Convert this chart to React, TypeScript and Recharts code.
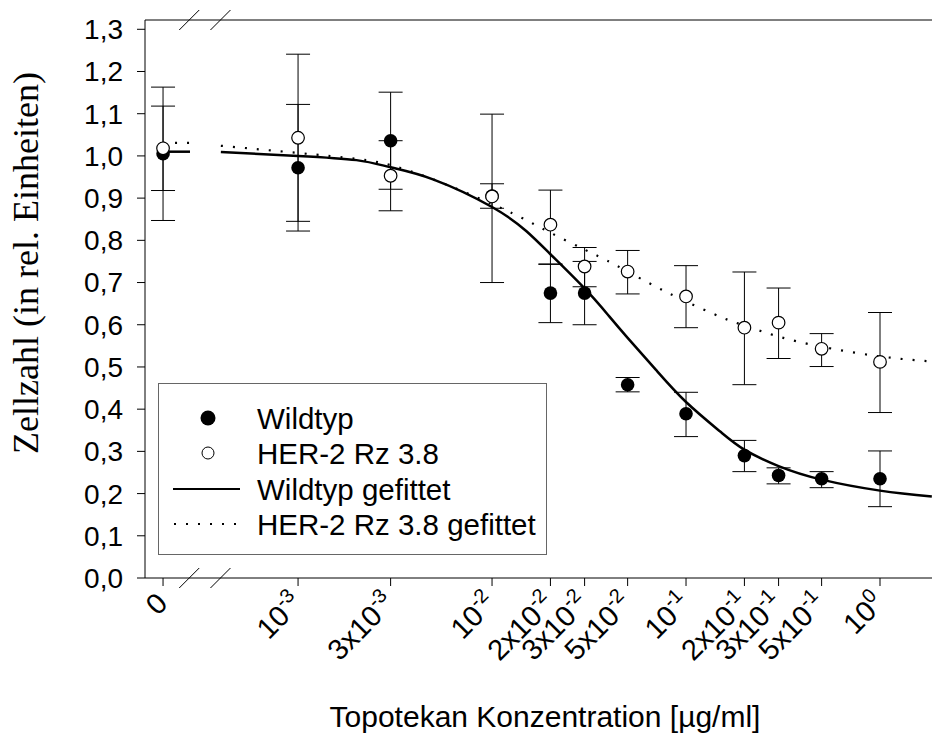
import {
  ComposedChart,
  Scatter,
  Line,
  XAxis,
  YAxis,
  ErrorBar,
  ReferenceLine,
  Legend,
} from "recharts";

// Konzentrationen [µg/ml]
const conc = [0, 0.001, 0.003, 0.01, 0.02, 0.03, 0.05, 0.1, 0.2, 0.3, 0.5, 1];

const wildtyp = [1.005, 0.972, 1.036, 0.905, 0.675, 0.675, 0.458, 0.389, 0.29, 0.243, 0.235, 0.235];
const wildtypLow = [0.847, 0.822, 0.921, 0.876, 0.605, 0.6, 0.441, 0.335, 0.252, 0.223, 0.214, 0.169];
const wildtypHigh = [1.163, 1.122, 1.151, 0.934, 0.744, 0.75, 0.475, 0.44, 0.326, 0.261, 0.252, 0.301];

const her2 = [1.018, 1.043, 0.953, 0.904, 0.837, 0.738, 0.726, 0.667, 0.593, 0.605, 0.543, 0.512];
const her2Low = [0.918, 0.845, 0.87, 0.7, 0.743, 0.69, 0.673, 0.593, 0.458, 0.52, 0.501, 0.392];
const her2High = [1.118, 1.241, 1.036, 1.099, 0.919, 0.783, 0.776, 0.74, 0.725, 0.687, 0.579, 0.629];

// gefittete Kurven
const fitConc = [0.0004, 0.001, 0.002, 0.003, 0.005, 0.01, 0.015, 0.02, 0.03, 0.04, 0.05, 0.07, 0.1, 0.15, 0.2, 0.3, 0.5, 1, 1.85];
const wildtypFit = [1.009, 1.0, 0.99, 0.973, 0.944, 0.879, 0.822, 0.767, 0.686, 0.621, 0.569, 0.493, 0.417, 0.347, 0.304, 0.265, 0.233, 0.207, 0.193];
const her2Fit = [1.024, 1.007, 0.993, 0.978, 0.944, 0.886, 0.848, 0.818, 0.778, 0.75, 0.726, 0.69, 0.655, 0.619, 0.598, 0.572, 0.548, 0.525, 0.513];
const wildtypFitZero = 1.01;
const her2FitZero = 1.031;

const tickLabels = ["0", "10^-3", "3x10^-3", "10^-2", "2x10^-2", "3x10^-2", "5x10^-2", "10^-1", "2x10^-1", "3x10^-1", "5x10^-1", "10^0"];
const yTicks = [0, 0.1, 0.2, 0.3, 0.4, 0.5, 0.6, 0.7, 0.8, 0.9, 1.0, 1.1, 1.2, 1.3];

// gebrochene log-Achse: 0 sitzt links vom Bruch
const ZERO_POS = -3.696;
const X_DOMAIN = [-3.789, 0.268];
const Y_MAX = 1.322;
const BREAKS = [-3.561, -3.4];
const ZERO_STUB_END = -3.557;

const toPos = (c: number) => (c === 0 ? ZERO_POS : Math.log10(c));
const tickPos = conc.map(toPos);

const wtData = conc.map((c, i) => ({
  u: toPos(c),
  v: wildtyp[i],
  err: [wildtyp[i] - wildtypLow[i], wildtypHigh[i] - wildtyp[i]],
}));
const herData = conc.map((c, i) => ({
  u: toPos(c),
  v: her2[i],
  err: [her2[i] - her2Low[i], her2High[i] - her2[i]],
}));
const wtFitData = fitConc.map((c, i) => ({ u: toPos(c), v: wildtypFit[i] }));
const herFitData = fitConc.map((c, i) => ({ u: toPos(c), v: her2Fit[i] }));
const wtStub = [
  { u: ZERO_POS, v: wildtypFitZero },
  { u: ZERO_STUB_END, v: wildtypFitZero },
];
const herStub = [
  { u: ZERO_POS, v: her2FitZero },
  { u: ZERO_STUB_END, v: her2FitZero },
];

const SANS = "'Liberation Sans', Arial, sans-serif";
const SERIF = "'Liberation Serif', 'Times New Roman', serif";

function ConcTick(props: any) {
  const { x, y, payload, index } = props;
  let i = tickPos.indexOf(payload.value);
  if (i < 0) i = index;
  const [base, exp] = (tickLabels[i] || "").split("^");
  return (
    <g transform={`translate(${x + 6},${y + 17}) rotate(-45)`}>
      <text textAnchor="end" fontSize={29} fontFamily={SANS} fill="#000">
        {base}
        {exp && (
          <tspan dy={-12} fontSize={20}>
            {exp}
          </tspan>
        )}
      </text>
    </g>
  );
}

function FilledDot(p: any) {
  return <circle cx={p.cx} cy={p.cy} r={6.8} fill="#000" />;
}

function OpenDot(p: any) {
  return <circle cx={p.cx} cy={p.cy} r={6.3} fill="#fff" stroke="#000" strokeWidth={1.2} />;
}

function BreakMark(p: any) {
  const x = p.x1;
  const top = Math.min(p.y1, p.y2);
  const bottom = Math.max(p.y1, p.y2);
  return (
    <g stroke="#000" strokeWidth={1}>
      <line x1={x - 10} y1={top + 10} x2={x + 10} y2={top - 10} />
      <line x1={x - 10} y1={bottom + 10} x2={x + 10} y2={bottom - 10} />
    </g>
  );
}

function LegendBox() {
  const rows = [35, 70, 106, 141];
  const labels = ["Wildtyp", "HER-2 Rz 3.8", "Wildtyp gefittet", "HER-2 Rz 3.8 gefittet"];
  return (
    <svg width={390} height={173} style={{ display: "block" }}>
      <rect x={0.5} y={0.5} width={388} height={171} fill="#fff" stroke="#666" strokeWidth={1} />
      <circle cx={50} cy={rows[0]} r={7.5} fill="#000" />
      <circle cx={50} cy={rows[1]} r={6} fill="#fff" stroke="#000" strokeWidth={1} />
      <line x1={15} y1={rows[2]} x2={82} y2={rows[2]} stroke="#000" strokeWidth={2} />
      <line x1={16} y1={rows[3]} x2={82} y2={rows[3]} stroke="#000" strokeWidth={2} strokeDasharray="2 10" />
      {labels.map((t, i) => (
        <text key={t} x={99} y={rows[i]} dy="0.36em" fontSize={29.5} fontFamily={SANS} fill="#000">
          {t}
        </text>
      ))}
    </svg>
  );
}

function YTitle() {
  return (
    <text
      transform="translate(26,263) rotate(-90)"
      textAnchor="middle"
      dominantBaseline="central"
      fontSize={36}
      fontFamily={SERIF}
      fill="#000"
    >
      Zellzahl (in rel. Einheiten)
    </text>
  );
}

function XTitle() {
  return (
    <text x={545} y={727} textAnchor="middle" fontSize={30} fontFamily={SANS} fill="#000">
      Topotekan Konzentration [µg/ml]
    </text>
  );
}

export default function App() {
  return (
    <div style={{ position: "absolute", left: 0, top: 0, width: 932, height: 736, background: "#fff" }}>
      <ComposedChart width={932} height={736} margin={{ top: 20, right: 0, bottom: 0, left: 0 }}>
        <XAxis
          dataKey="u"
          type="number"
          domain={X_DOMAIN}
          ticks={tickPos}
          interval={0}
          allowDataOverflow
          height={158}
          tickSize={8}
          stroke="#000"
          tick={<ConcTick />}
          label={<XTitle />}
        />
        <YAxis
          dataKey="v"
          type="number"
          domain={[0, Y_MAX]}
          ticks={yTicks}
          interval={0}
          allowDataOverflow
          width={145}
          tickSize={8}
          tickMargin={14}
          stroke="#000"
          tick={{ fontSize: 28, fontFamily: SANS, fill: "#000" }}
          tickFormatter={(v: number) => v.toFixed(1).replace(".", ",")}
          label={<YTitle />}
        />
        <ReferenceLine y={Y_MAX} stroke="#000" strokeWidth={1} ifOverflow="visible" />
        {BREAKS.map((b) => (
          <ReferenceLine key={b} x={b} ifOverflow="visible" shape={<BreakMark />} />
        ))}
        <Scatter data={wtData} dataKey="v" shape={<FilledDot />} isAnimationActive={false}>
          <ErrorBar dataKey="err" direction="y" width={12} stroke="#000" strokeWidth={1} />
        </Scatter>
        <Scatter data={herData} dataKey="v" shape={<OpenDot />} isAnimationActive={false}>
          <ErrorBar dataKey="err" direction="y" width={12} stroke="#000" strokeWidth={1} />
        </Scatter>
        <Line data={wtStub} dataKey="v" type="linear" stroke="#000" strokeWidth={2.5} dot={false} activeDot={false} isAnimationActive={false} />
        <Line data={herStub} dataKey="v" type="linear" stroke="#000" strokeWidth={2.2} strokeDasharray="2 10" dot={false} activeDot={false} isAnimationActive={false} />
        <Line data={wtFitData} dataKey="v" type="natural" stroke="#000" strokeWidth={2.5} dot={false} activeDot={false} isAnimationActive={false} />
        <Line data={herFitData} dataKey="v" type="natural" stroke="#000" strokeWidth={2.2} strokeDasharray="2 10" dot={false} activeDot={false} isAnimationActive={false} />
        <Legend
          layout="vertical"
          align="center"
          verticalAlign="middle"
          wrapperStyle={{ left: 158, top: 383, width: 390, height: 173 }}
          content={<LegendBox />}
        />
      </ComposedChart>
    </div>
  );
}
